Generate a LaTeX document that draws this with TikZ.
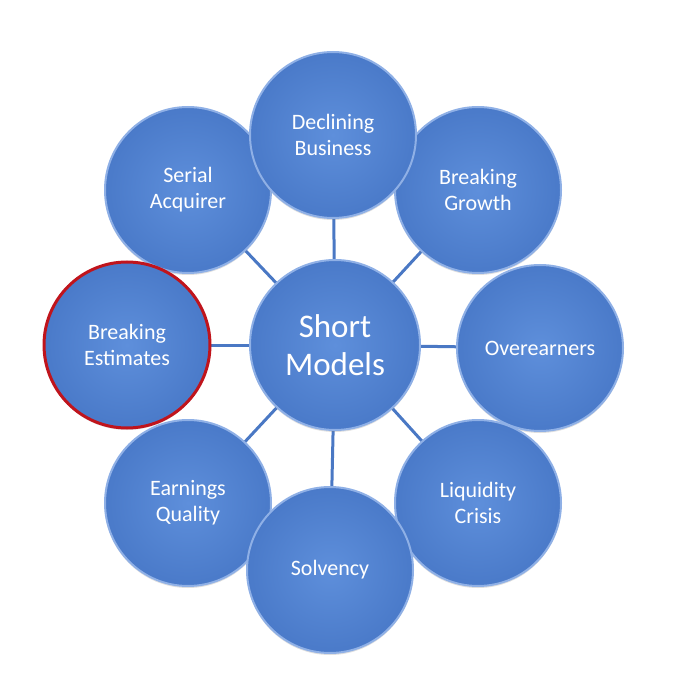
\documentclass[tikz,border=0pt]{standalone}
\usepackage{fontspec}
\setmainfont{Carlito}
\usetikzlibrary{shadows}
\definecolor{cfill}{HTML}{4A7AC9}
\definecolor{cin}{HTML}{5E8FDB}
\definecolor{cedge}{HTML}{8FB0E6}
\definecolor{cline}{HTML}{4A78C4}
\definecolor{cred}{HTML}{C0141C}
\begin{document}
\begin{tikzpicture}[x=1pt,y=1pt,
  ball/.style={circle,minimum size=166pt,inner sep=0pt,draw=cedge,line width=2pt,
    inner color=cin,outer color=cfill,text=white,font=\fontsize{22}{26}\selectfont,align=center,
    drop shadow={shadow xshift=0pt,shadow yshift=-2pt,opacity=0.25,fill=black!50}},
  conn/.style={draw=cline,line width=3pt}]
\useasboundingbox (0,0) rectangle (687,686);
\coordinate (c) at (335,341);
\foreach \n/\x/\y in {d/333/551,g/478/496,o/540/338,l/478,183,s/330/116,e/188/183,b/127/341,a/188/496}{}
\coordinate (pd) at (333,551); \coordinate (pg) at (478,496); \coordinate (po) at (540,338);
\coordinate (pl) at (478,183); \coordinate (ps) at (330,116); \coordinate (pe) at (188,183);
\coordinate (pb) at (127,341); \coordinate (pa) at (188,496);
\foreach \p in {pd,pg,po,pl,ps,pe,pb,pa} \draw[conn] (c) -- (\p);
\node[ball] (sa) at (pa) {Serial\\Acquirer};
\node[ball] (bg) at (pg) {Breaking\\Growth};
\node[ball] (db) at (pd) {Declining\\Business};
\node[ball] (ov) at (po) {Overearners};
\node[ball,draw=cred,line width=3pt] (be) at (pb) {Breaking\\Estimates};
\node[ball] (eq) at (pe) {Earnings\\Quality};
\node[ball] (lc) at (pl) {Liquidity\\Crisis};
\node[ball] (so) at (ps) {Solvency};
\node[ball,minimum size=170pt,font=\fontsize{33}{38}\selectfont] (sm) at (c) {Short\\Models};
\end{tikzpicture}
\end{document}
